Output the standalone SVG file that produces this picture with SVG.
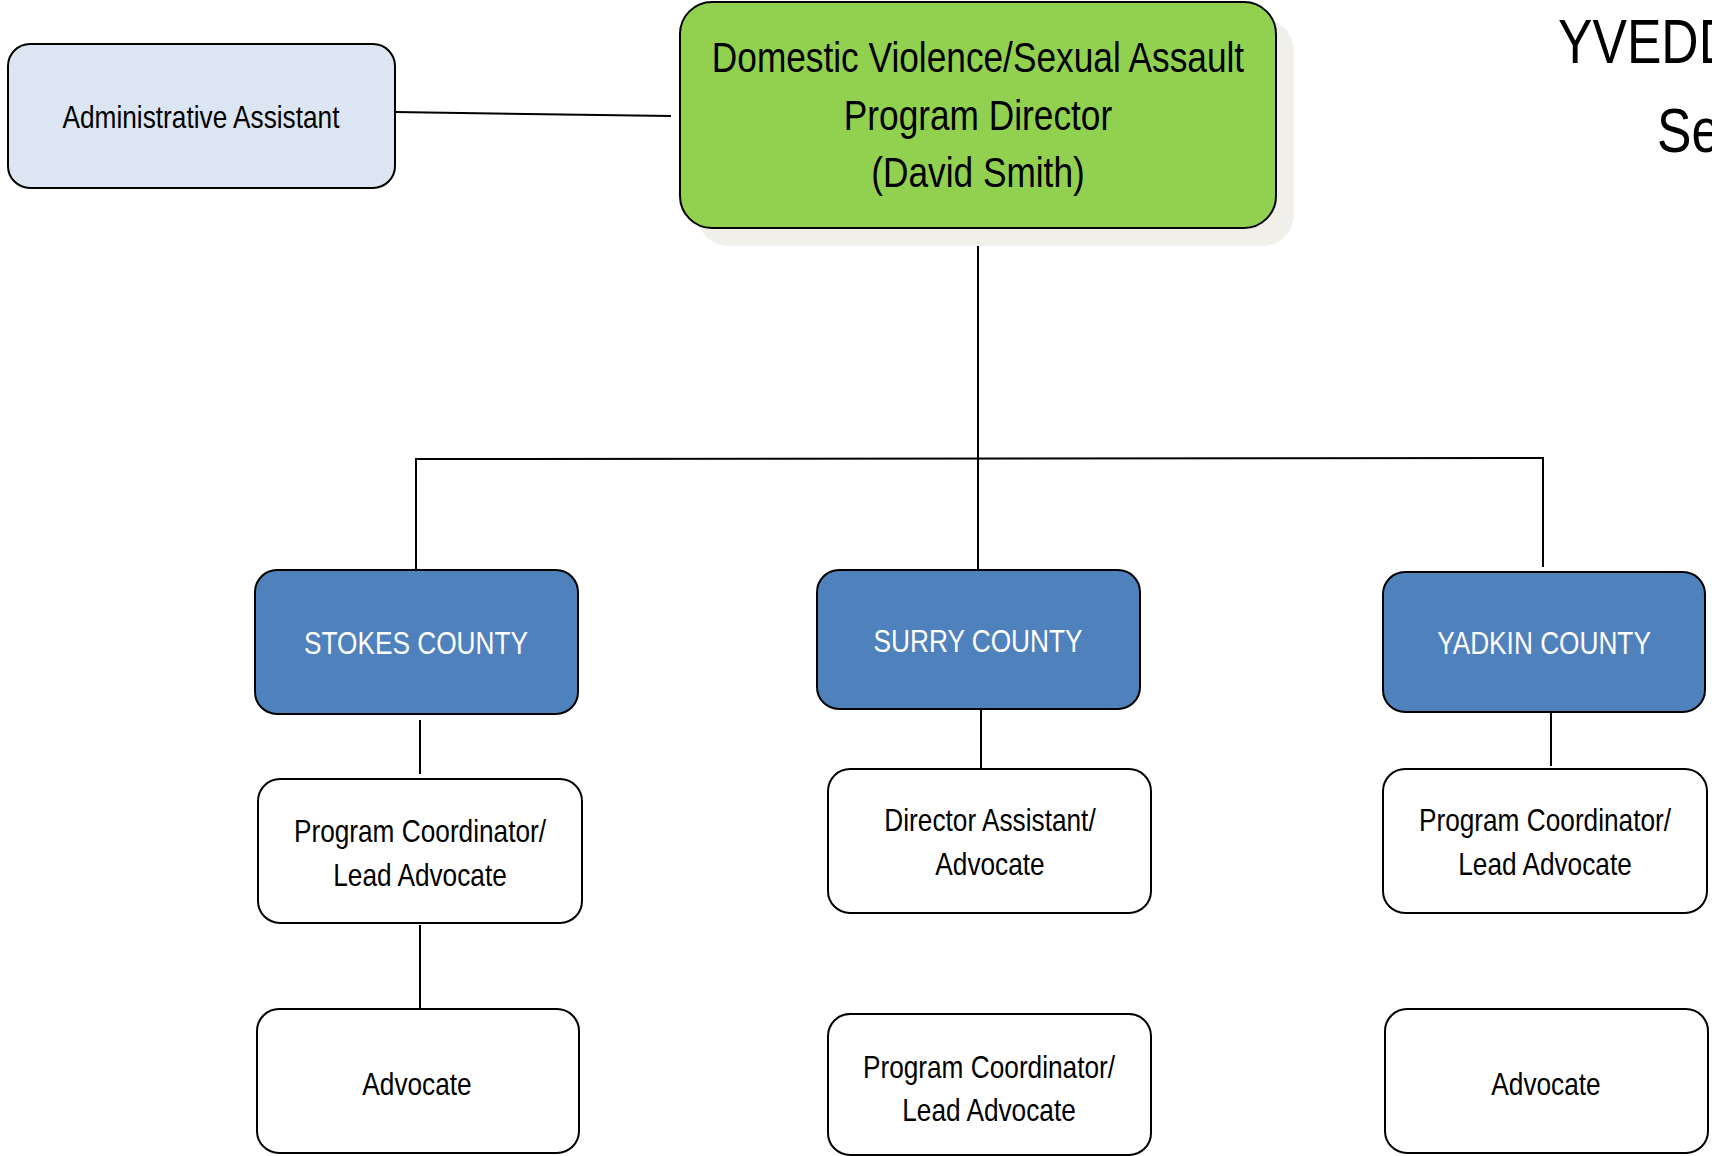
<svg xmlns="http://www.w3.org/2000/svg" width="1712" height="1156" viewBox="0 0 1712 1156">
<defs>
<style>
.t{font-family:"Liberation Sans",Arial,sans-serif;text-anchor:middle;}
.ts{text-anchor:start;font-size:63px;fill:#000;}
.box{stroke:#000;stroke-width:2;}
.white{fill:#ffffff;}
.county{fill:#4f81bd;}
.ct{fill:#ffffff;font-size:32px;}
.bt{fill:#000;font-size:32px;}
.dt{fill:#000;font-size:43px;}
.conn line{stroke:#000;stroke-width:2;}
</style>
</defs>
<rect width="1712" height="1156" fill="#ffffff"/>
<g id="title">
<text class="t ts" transform="translate(1558,63) scale(0.82,1)">YVEDD</text>
<text class="t ts" transform="translate(1657,152) scale(0.82,1)">Se</text>
</g>
<g class="conn" id="connectors">
<line x1="395" y1="112" x2="671" y2="116"/>
<line x1="978" y1="226" x2="978" y2="570"/>
<line x1="415" y1="459" x2="1544" y2="458"/>
<line x1="416" y1="458" x2="416" y2="570"/>
<line x1="1543" y1="458" x2="1543" y2="567"/>
<line x1="420" y1="720" x2="420" y2="774"/>
<line x1="420" y1="925" x2="420" y2="1010"/>
<line x1="981" y1="709" x2="981" y2="771"/>
<line x1="1551" y1="712" x2="1551" y2="766"/>
</g>
<g id="admin">
<rect class="box" x="8" y="44" width="387" height="144" rx="22" fill="#dce6f2"/>
<text class="t bt" transform="translate(201,128) scale(0.82,1)">Administrative Assistant</text>
</g>
<g id="director">
<rect x="697" y="19" width="597" height="227" rx="32" fill="#f0efe9"/>
<rect class="box" x="680" y="2" width="596" height="226" rx="32" fill="#92d050"/>
<text class="t dt" transform="translate(978,72) scale(0.82,1)">Domestic Violence/Sexual Assault</text>
<text class="t dt" transform="translate(978,130) scale(0.82,1)">Program Director</text>
<text class="t dt" transform="translate(978,187) scale(0.82,1)">(David Smith)</text>
</g>
<g id="stokes">
<rect class="box county" x="255" y="570" width="323" height="144" rx="22"/>
<text class="t ct" transform="translate(416,654) scale(0.82,1)">STOKES COUNTY</text>
</g>
<g id="surry">
<rect class="box county" x="817" y="570" width="323" height="139" rx="22"/>
<text class="t ct" transform="translate(978,652) scale(0.82,1)">SURRY COUNTY</text>
</g>
<g id="yadkin">
<rect class="box county" x="1383" y="572" width="322" height="140" rx="22"/>
<text class="t ct" transform="translate(1544,654) scale(0.82,1)">YADKIN COUNTY</text>
</g>
<g id="stokes-pc">
<rect class="box white" x="258" y="779" width="324" height="144" rx="22"/>
<text class="t bt" transform="translate(420,842) scale(0.82,1)">Program Coordinator/</text>
<text class="t bt" transform="translate(420,886) scale(0.82,1)">Lead Advocate</text>
</g>
<g id="stokes-adv">
<rect class="box white" x="257" y="1009" width="322" height="144" rx="22"/>
<text class="t bt" transform="translate(417,1095) scale(0.82,1)">Advocate</text>
</g>
<g id="surry-da">
<rect class="box white" x="828" y="769" width="323" height="144" rx="22"/>
<text class="t bt" transform="translate(990,831) scale(0.82,1)">Director Assistant/</text>
<text class="t bt" transform="translate(990,875) scale(0.82,1)">Advocate</text>
</g>
<g id="surry-pc">
<rect class="box white" x="828" y="1014" width="323" height="141" rx="22"/>
<text class="t bt" transform="translate(989,1078) scale(0.82,1)">Program Coordinator/</text>
<text class="t bt" transform="translate(989,1121) scale(0.82,1)">Lead Advocate</text>
</g>
<g id="yadkin-pc">
<rect class="box white" x="1383" y="769" width="324" height="144" rx="22"/>
<text class="t bt" transform="translate(1545,831) scale(0.82,1)">Program Coordinator/</text>
<text class="t bt" transform="translate(1545,875) scale(0.82,1)">Lead Advocate</text>
</g>
<g id="yadkin-adv">
<rect class="box white" x="1385" y="1009" width="323" height="144" rx="22"/>
<text class="t bt" transform="translate(1546,1095) scale(0.82,1)">Advocate</text>
</g>
</svg>
